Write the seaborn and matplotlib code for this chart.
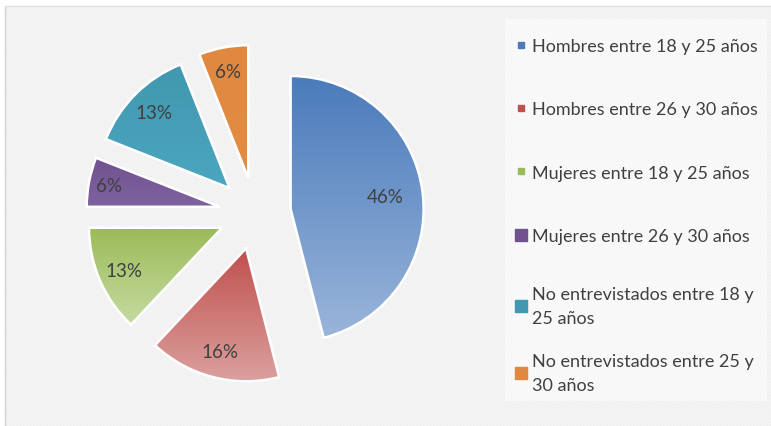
import numpy as np
import matplotlib.pyplot as plt
import seaborn as sns
from matplotlib.patches import Rectangle
from matplotlib.lines import Line2D
from matplotlib.colors import LinearSegmentedColormap

# datos del gráfico
categorias = [
    "Hombres entre 18 y 25 años",
    "Hombres entre 26 y 30 años",
    "Mujeres entre 18 y 25 años",
    "Mujeres entre 26 y 30 años",
    "No entrevistados entre 18 y\n25 años",
    "No entrevistados entre 25 y\n30 años",
]
porcentajes = [46, 16, 13, 6, 13, 6]

# colores (arriba -> abajo del degradado)
colores_arriba = ["#4a7bbb", "#c0504d", "#9bbb59", "#71528f", "#4198af", "#e0883f"]
colores_abajo = ["#9ab5da", "#dba09e", "#c6dba0", "#7e62a0", "#4ba6bf", "#e38c44"]
tam_marcador = [5, 5, 5, 9, 9, 9]

sns.set_theme(style="white")
plt.rcParams['font.family'] = ['Lato', 'DejaVu Sans']
plt.rcParams['hatch.linewidth'] = 1.2

W, H = 771, 427
fig = plt.figure(figsize=(W / 100, H / 100), dpi=100)
fig.patch.set_facecolor('white')

# fondo rayado
fondo = Rectangle((5 / W, 0), (W - 5) / W, (H - 7) / H, transform=fig.transFigure,
                  facecolor='#ebebeb', edgecolor='#f6f6f6', hatch='\\' * 10, lw=0, zorder=0)
fig.add_artist(fondo)
fig.add_artist(Line2D([5 / W, 5 / W], [0, (H - 7) / H], color='#d4d4d4', lw=1, transform=fig.transFigure))
fig.add_artist(Line2D([5 / W, 1], [(H - 7) / H] * 2, color='#e0e0e0', lw=1, transform=fig.transFigure))

# zona de la leyenda
fig.add_artist(Rectangle((505 / W, (H - 402) / H), 262 / W, 382 / H, transform=fig.transFigure,
                         facecolor='#f4f4f4', edgecolor='#fbfbfb', hatch='\\' * 10, lw=0, zorder=0.5))

# ejes del pastel (1 unidad = 133 px)
r_px = 133
cx, cy = 255, H - 214.5
ax = fig.add_axes([0, 0, 500 / W, 1])
ax.patch.set_visible(False)

wedges, texts, autotexts = ax.pie(
    porcentajes, startangle=90, counterclock=False, explode=[0.27] * len(porcentajes),
    autopct='%d%%', pctdistance=0.8,
    wedgeprops=dict(edgecolor='white', linewidth=1.8),
    textprops=dict(color='#404040', fontsize=13.5),
)

dist_etiqueta = [0.72, 0.8, 0.8, 0.85, 0.8, 0.82]
for w, t, c0, c1, d in zip(wedges, autotexts, colores_arriba, colores_abajo, dist_etiqueta):
    bb = w.get_path().get_extents()
    cmap = LinearSegmentedColormap.from_list('g', [c0, c1])
    grad = np.linspace(0, 1, 256).reshape(-1, 1)
    im = ax.imshow(grad, cmap=cmap, extent=(bb.x0, bb.x1, bb.y0, bb.y1),
                   origin='upper', aspect='auto', zorder=1)
    im.set_clip_path(w)
    w.set_facecolor('none')
    w.set_zorder(2)
    ang = np.deg2rad((w.theta1 + w.theta2) / 2)
    t.set_position((w.center[0] + d * w.r * np.cos(ang), w.center[1] + d * w.r * np.sin(ang)))
    t.set_zorder(3)

ax.set_xlim(-cx / r_px, (500 - cx) / r_px)
ax.set_ylim(-cy / r_px, (H - cy) / r_px)
ax.set_aspect('auto')
ax.axis('off')

# leyenda (dos bloques para respetar el espaciado original)
handles = [Line2D([], [], marker='s', linestyle='', markersize=s, markerfacecolor=c, markeredgecolor=c)
           for c, s in zip(colores_arriba, tam_marcador)]
opts = dict(loc='upper left', frameon=False, fontsize=13, labelcolor='#404040',
            handlelength=0.7, handletextpad=0.25, borderpad=0, borderaxespad=0)
leg1 = fig.legend(handles[:4], categorias[:4], bbox_to_anchor=(515 / W, 1 - 39 / H),
                  labelspacing=2.62, **opts)
leg2 = fig.legend(handles[4:], categorias[4:], bbox_to_anchor=(515 / W, 1 - 287 / H),
                  labelspacing=1.45, **opts)
for t in leg2.get_texts():
    t.set_linespacing(1.65)

fig.savefig('out.png', dpi=100)
